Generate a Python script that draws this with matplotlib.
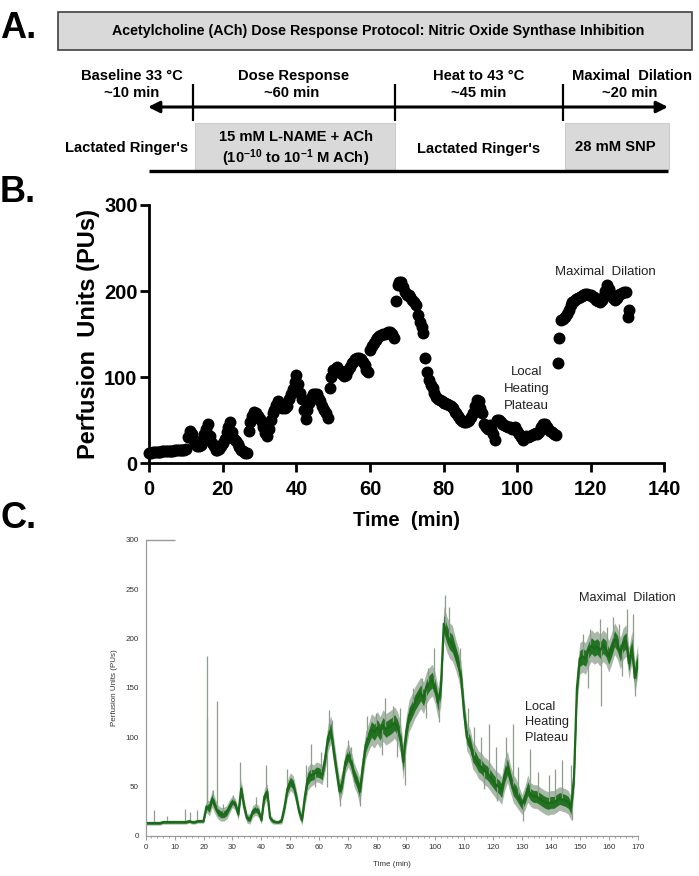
import matplotlib
matplotlib.use("Agg")
import matplotlib.pyplot as plt
import numpy as np
from matplotlib.patches import Rectangle
from matplotlib.ticker import MultipleLocator

plt.rcParams['font.family'] = ['Liberation Sans', 'DejaVu Sans']
plt.rcParams['mathtext.fontset'] = 'custom'
plt.rcParams['mathtext.rm'] = 'Liberation Sans:bold'
plt.rcParams['mathtext.default'] = 'rm'

# ---- panel B: perfusion units, one point every 0.5 min ----
y_b = [12, 12, 13, 13, 13, 13, 13, 14, 14, 14,
       14, 14, 14, 14, 15, 15, 15, 15, 16, 16,
       17, 30, 38, 34, 28, 24, 20, 20, 21, 28,
       34, 40, 46, 32, 24, 20, 16, 15, 17, 20,
       24, 28, 36, 42, 48, 36, 28, 26, 22, 19,
       16, 14, 12, 12, 37, 48, 55, 60, 58, 55,
       52, 48, 42, 35, 32, 40, 50, 58, 62, 68,
       72, 68, 64, 65, 64, 66, 75, 80, 86, 95,
       102, 92, 82, 75, 62, 52, 62, 70, 76, 80,
       81, 80, 75, 72, 66, 62, 58, 53, 88, 100,
       108, 110, 112, 108, 105, 104, 101, 102, 108, 112,
       116, 118, 121, 122, 122, 121, 118, 114, 108, 106,
       132, 136, 140, 143, 146, 148, 149, 150, 150, 151,
       152, 153, 150, 145, 188, 207, 211, 211, 205, 199,
       196, 195, 193, 190, 187, 184, 172, 164, 158, 151,
       122, 106, 97, 91, 87, 82, 77, 75, 73, 72,
       70, 70, 69, 68, 66, 64, 60, 58, 55, 52,
       49, 48, 48, 49, 50, 54, 58, 66, 73, 72,
       64, 58, 46, 42, 40, 44, 40, 34, 27, 50,
       50, 48, 46, 45, 43, 42, 42, 40, 41, 42,
       38, 34, 30, 27, 30, 32, 31, 32, 33, 34,
       35, 34, 36, 42, 46, 46, 42, 40, 38, 36,
       34, 33, 116, 145, 166, 168, 170, 173, 178, 184,
       187, 189, 191, 192, 193, 194, 196, 197, 197, 196,
       195, 193, 193, 190, 188, 187, 190, 194, 200, 207,
       203, 197, 192, 190, 192, 195, 197, 198, 199, 199,
       170, 178]
t_b = np.arange(len(y_b)) * 0.5

# ---- panel C: laser Doppler trace, per-minute centre and noise half-width ----
c_mid = [13, 13, 13, 13, 13, 13, 14, 14, 14, 14,
         14, 14, 14, 14, 14, 15, 14, 14, 15, 15,
         15, 30, 28, 38, 30, 24, 22, 22, 24, 30,
         35, 32, 22, 48, 30, 18, 17, 25, 27, 25,
         16, 40, 45, 18, 15, 14, 14, 16, 30, 48,
         55, 52, 40, 25, 16, 40, 58, 62, 62, 65,
         64, 62, 78, 100, 108, 85, 65, 45, 55, 75,
         82, 75, 62, 55, 45, 70, 92, 100, 108, 105,
         110, 105, 112, 108, 110, 112, 115, 110, 100, 75,
         105, 122, 128, 135, 140, 145, 140, 150, 155, 158,
         150, 135, 150, 215, 205, 198, 195, 185, 175, 160,
         125, 100, 95, 82, 78, 72, 70, 66, 64, 60,
         56, 52, 50, 46, 62, 70, 58, 48, 44, 38,
         32, 38, 48, 42, 40, 40, 38, 36, 34, 33,
         34, 34, 36, 38, 37, 36, 34, 28, 60, 150,
         180, 182, 180, 188, 193, 190, 192, 188, 193, 190,
         182, 190, 200, 195, 185, 195, 198, 175, 192, 160,
         178]
c_spread = [2, 2, 2, 2, 2, 2, 2, 2, 2, 2,
            2, 2, 2, 2, 2, 2, 2, 2, 2, 2,
            2, 6, 8, 9, 8, 7, 7, 7, 7, 7,
            6, 6, 6, 9, 8, 5, 5, 6, 6, 6,
            4, 8, 8, 4, 3, 2, 2, 4, 7, 9,
            9, 9, 8, 7, 5, 10, 12, 12, 10, 10,
            10, 10, 12, 14, 14, 14, 12, 12, 12, 12,
            12, 12, 12, 12, 14, 14, 14, 14, 16, 16,
            16, 16, 16, 16, 16, 16, 16, 16, 16, 18,
            16, 16, 16, 16, 16, 16, 16, 16, 16, 16,
            16, 16, 18, 18, 18, 18, 18, 16, 16, 16,
            16, 14, 14, 14, 14, 14, 14, 14, 14, 14,
            14, 14, 14, 14, 16, 16, 14, 14, 14, 12,
            10, 12, 14, 12, 12, 12, 12, 12, 12, 12,
            12, 12, 12, 12, 12, 12, 12, 12, 16, 18,
            16, 16, 16, 16, 16, 16, 16, 16, 16, 16,
            16, 16, 16, 16, 16, 16, 16, 16, 16, 16,
            16]
t_c = np.arange(len(c_mid))
# isolated upward excursions (time, peak) and downward ones (time, trough)
spk_t = [3.0, 7.3, 13.5, 15.2, 17.8, 21.1, 21.3, 23.1, 24.5, 26.7, 30.1, 32.5,
         38.0, 41.6, 49.0, 55.3, 57.2, 60.5, 63.2, 64.5, 69.8, 71.0, 76.5, 79.5,
         82.7, 85.5, 88.0, 92.5, 95.5, 97.5, 99.5, 103.4, 104.8, 108.5, 111.5, 113.5,
         116.0, 118.7, 121.0, 124.5, 126.8, 128.8, 132.7, 135.5, 139.5, 141.5, 144.0,
         146.9, 151.0, 153.5, 156.9, 159.5, 161.5, 163.5, 166.4, 168.5]
spk_top = [26, 20, 27, 24, 26, 120, 182, 47, 137, 32, 42, 75,
           40, 72, 68, 72, 93, 85, 128, 118, 97, 90, 122, 125,
           140, 132, 130, 150, 160, 170, 190, 244, 232, 190, 130, 110,
           100, 113, 90, 100, 113, 70, 88, 65, 62, 68, 77,
           72, 205, 210, 220, 212, 222, 215, 230, 225]
dip_t = [58.5, 62.5, 67.0, 74.0, 81.5, 86.7, 89.6, 97.0, 101.5, 117.0, 121.5,
         130.3, 147.2, 153.0, 157.2, 164.7, 169.2]
dip_bot = [50, 50, 30, 30, 82, 80, 52, 120, 115, 48, 35,
           15, 16, 150, 132, 162, 142]

fig = plt.figure(figsize=(6.99, 8.76), dpi=100)

# ---- panel A: protocol diagram (pixel coordinates) ----
ax0 = fig.add_axes([0, 0, 1, 1])
ax0.set_xlim(0, 699)
ax0.set_ylim(876, 0)
ax0.axis('off')

ax0.add_patch(Rectangle((58, 12), 634, 38, fc='#d9d9d9', ec='#404040', lw=1.2))
ax0.text(378, 31, 'Acetylcholine (ACh) Dose Response Protocol: Nitric Oxide Synthase Inhibition',
         ha='center', va='center', fontsize=10.3, fontweight='bold')
ax0.annotate('', xy=(668, 107), xytext=(148, 107),
             arrowprops=dict(arrowstyle='<|-|>', lw=2.2, color='black', mutation_scale=17,
                             shrinkA=0, shrinkB=0))
ax0.vlines([193, 395, 563], 84, 121, color='black', lw=1.6)
ax0.add_patch(Rectangle((195, 123), 200, 47, fc='#d9d9d9', ec='#cccccc', lw=0.8))
ax0.add_patch(Rectangle((565, 123), 104, 46, fc='#d9d9d9', ec='#cccccc', lw=0.8))
ax0.hlines(171, 149, 668, color='black', lw=2.4)

hdr = dict(ha='center', va='center', fontsize=10.6, fontweight='bold')
ax0.text(132, 76, 'Baseline 33 °C', **hdr)
ax0.text(132, 93, '~10 min', **hdr)
ax0.text(294, 76, 'Dose Response', **hdr)
ax0.text(292, 93, '~60 min', **hdr)
ax0.text(479, 76, 'Heat to 43 °C', **hdr)
ax0.text(479, 93, '~45 min', **hdr)
ax0.text(632, 76, 'Maximal  Dilation', **hdr)
ax0.text(630, 93, '~20 min', **hdr)
ax0.text(127, 148, "Lactated Ringer's", **hdr)
ax0.text(296, 137, '15 mM L-NAME + ACh', **hdr)
ax0.text(296, 158, '(10$^{-10}$ to 10$^{-1}$ M ACh)', **hdr)
ax0.text(479, 149, "Lactated Ringer's", **hdr)
ax0.text(615, 147, '28 mM SNP', **hdr)

lab = dict(fontsize=26, fontweight='bold', va='top', ha='left')
ax0.text(0, 11, 'A.', **lab)
ax0.text(0, 175, 'B.', **lab)
ax0.text(0, 501, 'C.', **lab)

# ---- panel B ----
axb = fig.add_axes([0.2136, 0.4711, 0.7368, 0.2949])
axb.plot(t_b, y_b, 'o', color='black', markersize=7.6, clip_on=False)
axb.set_xlim(0, 140)
axb.set_ylim(0, 300)
axb.xaxis.set_major_locator(MultipleLocator(20))
axb.yaxis.set_major_locator(MultipleLocator(100))
for s in ['top', 'right']:
    axb.spines[s].set_visible(False)
for s in ['left', 'bottom']:
    axb.spines[s].set_linewidth(2.0)
axb.tick_params(direction='out', length=6.5, width=2.0, labelsize=14.5, pad=2)
axb.tick_params(axis='x', pad=5.5)
for lbl in axb.get_xticklabels() + axb.get_yticklabels():
    lbl.set_fontweight('bold')
axb.set_xlabel('Time  (min)', fontsize=14.5, fontweight='bold', labelpad=9)
axb.set_ylabel('Perfusion  Units (PUs)', fontsize=17, fontweight='bold', labelpad=3)
axb.text(102.5, 86, 'Local\nHeating\nPlateau', ha='center', va='center', fontsize=9.5,
         color='#222222', linespacing=1.55)
axb.text(124, 222, 'Maximal  Dilation', ha='center', va='center', fontsize=9.5, color='#222222')

# ---- panel C ----
axc = fig.add_axes([0.2084, 0.0457, 0.7039, 0.3379])
lo = np.array(c_mid) - np.array(c_spread)
hi = np.array(c_mid) + np.array(c_spread)
axc.vlines(spk_t, np.interp(spk_t, t_c, c_mid), spk_top, color='#8e9e8e', lw=0.9)
axc.vlines(dip_t, dip_bot, np.interp(dip_t, t_c, c_mid), color='#8e9e8e', lw=0.9)
axc.fill_between(t_c, lo, hi, color='#a9b8a9', lw=0)
axc.fill_between(t_c, lo + np.array(c_spread) * 0.5, hi - np.array(c_spread) * 0.5,
                 color='#237323', lw=0)
axc.plot(t_c, c_mid, color='#1a6a1a', lw=1.6)
axc.hlines(300, 0, 10, color='#999999', lw=1.0, clip_on=False)
axc.set_xlim(0, 170)
axc.set_ylim(0, 300)
axc.xaxis.set_major_locator(MultipleLocator(10))
axc.xaxis.set_minor_locator(MultipleLocator(2))
axc.yaxis.set_major_locator(MultipleLocator(50))
for s in ['top', 'right']:
    axc.spines[s].set_visible(False)
for s in ['left', 'bottom']:
    axc.spines[s].set_linewidth(0.9)
    axc.spines[s].set_color('#999999')
axc.tick_params(axis='x', which='major', direction='out', length=3, width=0.7,
                color='#999999', labelsize=5.8, labelcolor='#333333', pad=3)
axc.tick_params(axis='x', which='minor', direction='out', length=1.5, width=0.6, color='#999999')
axc.tick_params(axis='y', length=0, labelsize=5.8, labelcolor='#333333', pad=5)
axc.set_xlabel('Time (min)', fontsize=5.8, color='#333333', labelpad=7)
axc.set_ylabel('Perfusion Units (PUs)', fontsize=5.8, color='#333333', labelpad=5)
axc.text(131, 115, 'Local\nHeating\nPlateau', ha='left', va='center', fontsize=9.2,
         color='#222222', linespacing=1.35)
axc.text(166.5, 241, 'Maximal  Dilation', ha='center', va='center', fontsize=9.2,
         color='#222222', clip_on=False)

fig.savefig('out.png', dpi=100)
